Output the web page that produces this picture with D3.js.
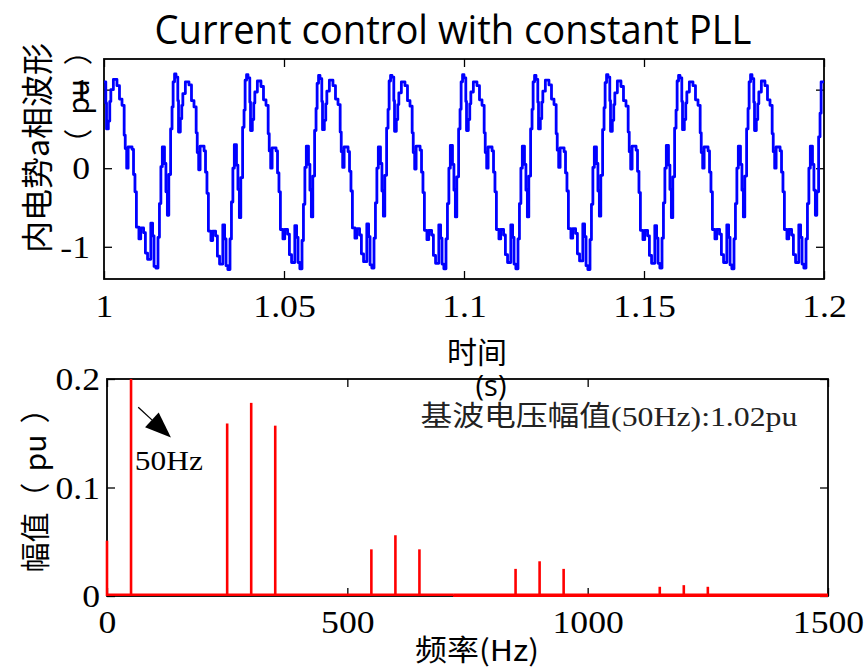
<!DOCTYPE html>
<html>
<head>
<meta charset="utf-8">
<script src="https://cdn.jsdelivr.net/npm/d3@7"></script>
<style>
  body { margin: 0; background: #fff; }
  svg { display: block; }
</style>
</head>
<body>
<div id="chart"></div>
<script>
// ---- top panel: internal EMF, phase a (pu) ----
// step points within one 20 ms period, one row of values per period
const PHASE_MS = [0.0, 0.5, 0.7, 1.2, 1.6, 1.9, 2.6, 3.6, 4.3, 5.0,
  5.6, 5.9, 6.3, 6.7, 7.8, 8.2, 8.6, 9.0, 9.7, 10.2,
  11.0, 11.5, 12.1, 13.0, 13.5, 13.9, 14.4, 15.0, 15.4, 15.8,
  16.2, 16.8, 17.2, 17.6, 18.0, 18.5, 18.9, 19.2, 19.6]
const WAVE_ROWS = [
  [1.10, 0.83, 0.50, 0.60, 0.85, 1.00, 1.13, 1.05, 0.88, 0.80, 0.42, 0.25, 0.00, 0.27, 0.24, -0.08, -0.30, -0.75, -0.90, -0.76, -0.82, -1.08, -1.16, -0.70, -0.86, -1.25, -1.27, -0.88, -0.45, 0.02, 0.27, 0.06, -0.30, -0.60, -0.08, 0.50, 0.78, 1.10, 1.20],
  [1.16, 0.86, 0.46, 0.63, 0.80, 0.95, 1.10, 1.06, 0.86, 0.78, 0.45, 0.20, -0.02, 0.28, 0.22, -0.05, -0.32, -0.80, -0.92, -0.80, -0.86, -1.12, -1.22, -0.72, -0.90, -1.24, -1.29, -0.90, -0.43, 0.00, 0.30, 0.04, -0.27, -0.63, -0.12, 0.52, 0.74, 1.12, 1.19],
  [1.15, 0.84, 0.48, 0.62, 0.83, 0.97, 1.11, 1.04, 0.87, 0.80, 0.44, 0.22, 0.00, 0.26, 0.22, -0.06, -0.30, -0.78, -0.90, -0.78, -0.84, -1.10, -1.20, -0.73, -0.88, -1.20, -1.28, -0.92, -0.46, 0.01, 0.28, 0.05, -0.28, -0.62, -0.10, 0.48, 0.76, 1.08, 1.18],
  [1.14, 0.85, 0.49, 0.61, 0.82, 0.98, 1.12, 1.05, 0.88, 0.81, 0.46, 0.21, 0.01, 0.27, 0.21, -0.04, -0.29, -0.76, -0.89, -0.77, -0.85, -1.09, -1.19, -0.71, -0.87, -1.23, -1.27, -0.89, -0.44, 0.00, 0.27, 0.06, -0.29, -0.61, -0.09, 0.51, 0.75, 1.11, 1.18],
  [1.16, 0.86, 0.47, 0.62, 0.81, 0.96, 1.10, 1.05, 0.86, 0.79, 0.45, 0.20, -0.01, 0.28, 0.23, -0.05, -0.31, -0.79, -0.91, -0.79, -0.85, -1.11, -1.21, -0.72, -0.89, -1.22, -1.28, -0.90, -0.45, 0.00, 0.29, 0.05, -0.28, -0.62, -0.11, 0.50, 0.75, 1.10, 1.19],
  [1.15, 0.85, 0.48, 0.62, 0.82, 0.97, 1.10, 1.05, 0.87, 0.80, 0.45, 0.20, 0.00, 0.27, 0.22, -0.05, -0.30, -0.78, -0.90, -0.78, -0.85, -1.10, -1.20, -0.72, -0.88, -1.22, -1.28, -0.90, -0.45, 0.00, 0.28, 0.05, -0.28, -0.62, -0.10, 0.50, 0.75, 1.10, 1.18],
  [1.13, 0.84, 0.50, 0.63, 0.84, 0.98, 1.12, 1.06, 0.88, 0.81, 0.44, 0.23, 0.01, 0.26, 0.21, -0.06, -0.29, -0.77, -0.89, -0.77, -0.83, -1.09, -1.18, -0.71, -0.87, -1.24, -1.29, -0.91, -0.46, 0.01, 0.27, 0.06, -0.29, -0.61, -0.09, 0.49, 0.77, 1.09, 1.19],
  [1.16, 0.86, 0.47, 0.61, 0.81, 0.96, 1.11, 1.04, 0.86, 0.79, 0.46, 0.21, -0.01, 0.28, 0.23, -0.04, -0.31, -0.79, -0.91, -0.79, -0.86, -1.11, -1.21, -0.73, -0.89, -1.21, -1.27, -0.89, -0.44, 0.00, 0.29, 0.04, -0.27, -0.63, -0.11, 0.51, 0.74, 1.11, 1.18],
  [1.15, 0.85, 0.49, 0.62, 0.83, 0.97, 1.10, 1.05, 0.87, 0.80, 0.45, 0.20, 0.00, 0.27, 0.22, -0.05, -0.30, -0.78, -0.90, -0.78, -0.84, -1.10, -1.20, -0.72, -0.88, -1.23, -1.28, -0.90, -0.45, 0.00, 0.28, 0.05, -0.28, -0.62, -0.10, 0.50, 0.76, 1.10, 1.19],
  [1.14, 0.84, 0.48, 0.62, 0.82, 0.97, 1.11, 1.05, 0.87, 0.80, 0.44, 0.21, 0.00, 0.27, 0.22, -0.05, -0.30, -0.78, -0.90, -0.78, -0.85, -1.10, -1.20, -0.72, -0.88, -1.22, -1.27, -0.90, -0.45, 0.00, 0.28, 0.05, -0.28, -0.60, -0.30, 0.40, 0.70, 1.10, 1.10]
]
const WAVE_PERIOD_MS = 20
const WAVE_END = [200, 1.1]
const TIME_TICKS = [1, 1.05, 1.1, 1.15, 1.2]
const TIME_LABELS = ['1', '1.05', '1.1', '1.15', '1.2']
const WAVE_TICKS = [-1, 0, 1]

// ---- bottom panel: FFT of the above ----
const FREQS = [0, 50, 250, 300, 350, 550, 600, 650, 850, 900, 950, 1150, 1200, 1250]
const AMPS = [0.051, 1.02, 0.159, 0.178, 0.157, 0.043, 0.056, 0.043, 0.025, 0.032, 0.025, 0.0085, 0.010, 0.0085]
const FREQ_TICKS = [0, 500, 1000, 1500]
const AMP_TICKS = [0, 0.1, 0.2]
const AMP_LABELS = ['0', '0.1', '0.2']
const FLOOR_BANDS = [[0, 720], [720, 1500]]
const ARROW_FROM = [65, 0.174]
const ARROW_TO = [133, 0.146]
const NOTE_50 = ['50Hz', 58, 0.116]
const NOTE_FUND = ['基波电压幅值(50Hz):1.02pu', 652, 0.157]

const W = 864, H = 669
const SERIF = '"Liberation Serif", "Times New Roman", "Noto Sans CJK SC", serif'
const SANS = '"Noto Sans CJK SC", "Open Sans", sans-serif'

const svg = d3.select('#chart').append('svg')
  .attr('width', W).attr('height', H)
  .style('background-color', '#fff')

// text in the original is a bit wider than the fonts we have
const stretch = (sel, k) => sel.each(function () {
  const w = this.getComputedTextLength()
  d3.select(this).attr('textLength', w * k).attr('lengthAdjust', 'spacingAndGlyphs')
})

const topbox = { x0: 104, x1: 824, y0: 59, y1: 279 }
const botbox = { x0: 107, x1: 828, y0: 379, y1: 596 }

const tx = d3.scaleLinear().domain([1, 1.2]).range([topbox.x0, topbox.x1])
const ty = d3.scaleLinear().domain([-1.41, 1.39]).range([topbox.y1, topbox.y0])
const fx = d3.scaleLinear().domain([0, 1500]).range([botbox.x0, botbox.x1])
const fy = d3.scaleLinear().domain([0, 0.2]).range([botbox.y1, botbox.y0])

const clip = (id, box) => {
  svg.append('clipPath').attr('id', id).append('rect')
    .attr('x', box.x0 - 2).attr('y', box.y0 - 1)
    .attr('width', box.x1 - box.x0 + 4).attr('height', box.y1 - box.y0 + 2)
  return `url(#${id})`
}

const drawaxes = (box, xs, ys, xticks, yticks, xfmt, yfmt, xlabely, ylabelx) => {
  /* frame with inward ticks on all four sides, labels bottom and left */
  const g = svg.append('g')
  const bottom = g.append('g').attr('transform', `translate(0,${box.y1})`)
    .call(d3.axisBottom(xs).tickValues(xticks).tickSizeInner(-8).tickSizeOuter(0).tickFormat(xfmt))
  g.append('g').attr('transform', `translate(0,${box.y0})`)
    .call(d3.axisTop(xs).tickValues(xticks).tickSizeInner(-8).tickSizeOuter(0).tickFormat(''))
  const left = g.append('g').attr('transform', `translate(${box.x0},0)`)
    .call(d3.axisLeft(ys).tickValues(yticks).tickSizeInner(-8).tickSizeOuter(0).tickFormat(yfmt))
  g.append('g').attr('transform', `translate(${box.x1},0)`)
    .call(d3.axisRight(ys).tickValues(yticks).tickSizeInner(-8).tickSizeOuter(0).tickFormat(''))
  g.selectAll('.domain').remove()
  g.selectAll('.tick line').attr('stroke', '#000').attr('stroke-width', 1.3)
  g.selectAll('text').attr('fill', '#000')
    .style('font-family', SERIF).style('font-size', '31px')
  bottom.selectAll('text').attr('y', xlabely).attr('dy', null)
  left.selectAll('text').attr('x', ylabelx).attr('dy', '0.34em')
  stretch(g.selectAll('text'), 1.15)
  g.append('rect')
    .attr('x', box.x0).attr('y', box.y0)
    .attr('width', box.x1 - box.x0).attr('height', box.y1 - box.y0)
    .attr('fill', 'none').attr('stroke', '#000').attr('stroke-width', 1.8)
}

// rotated y label; the full-width brackets get some air like in the original
const ylabel = (x, y, size, head, gap) => {
  const t = svg.append('text')
    .attr('transform', `translate(${x},${y}) rotate(-90)`)
    .attr('text-anchor', 'middle').attr('dominant-baseline', 'central')
    .style('font-family', SANS).style('font-size', `${size}px`)
  t.append('tspan').text(head + '（')
  t.append('tspan').attr('dx', gap).text('pu')
  t.append('tspan').attr('dx', gap).text('）')
  return t
}

// ---------- top panel ----------
drawaxes(topbox, tx, ty, TIME_TICKS, WAVE_TICKS,
  (d, i) => TIME_LABELS[i], d => d, 38, -14)

const wavepoints = []
WAVE_ROWS.forEach((row, c) => {
  row.forEach((v, i) => wavepoints.push([c * WAVE_PERIOD_MS + PHASE_MS[i], v]))
})
wavepoints.push(WAVE_END)

const waveline = d3.line()
  .x(d => tx(1 + d[0] / 1000))
  .y(d => ty(d[1]))
  .curve(d3.curveStepAfter)

svg.append('path')
  .datum(wavepoints)
  .attr('clip-path', clip('clip-top', topbox))
  .attr('d', waveline)
  .attr('fill', 'none')
  .attr('stroke', '#0000ff')
  .attr('stroke-width', 2.8)
  .attr('stroke-linejoin', 'round')

svg.append('text')
  .attr('x', 453).attr('y', 44)
  .attr('text-anchor', 'middle')
  .attr('textLength', 597).attr('lengthAdjust', 'spacingAndGlyphs')
  .style('font-family', '"Open Sans", "Noto Sans", sans-serif')
  .style('font-size', '40px')
  .text('Current control with constant PLL')

svg.append('text')
  .attr('x', 477).attr('y', 363)
  .attr('text-anchor', 'middle')
  .style('font-family', SANS).style('font-size', '30px')
  .text('时间')
svg.append('text')
  .attr('x', 491).attr('y', 396)
  .attr('text-anchor', 'middle')
  .style('font-family', '"Open Sans", sans-serif').style('font-size', '29px')
  .text('(s)')

svg.append('text')
  .attr('transform', 'translate(35,148) rotate(-90)')
  .attr('text-anchor', 'middle').attr('dominant-baseline', 'central')
  .style('font-family', SANS).style('font-size', '32px')
  .text('内电势a相波形')
ylabel(76, 97, 29, '', 14)

// ---------- bottom panel ----------
drawaxes(botbox, fx, fy, FREQ_TICKS, AMP_TICKS,
  d => d, (d, i) => AMP_LABELS[i], 37, -7)

const botclip = clip('clip-bot', botbox)
const floor = svg.append('g').attr('clip-path', botclip)
floor.selectAll('line')
  .data(FLOOR_BANDS)
  .enter()
  .append('line')
  .attr('x1', d => fx(d[0]))
  .attr('x2', d => fx(d[1]))
  .attr('y1', (d, i) => fy(0) - (i === 0 ? 1.2 : 0))
  .attr('y2', (d, i) => fy(0) - (i === 0 ? 1.2 : 0))
  .attr('stroke', '#ff0000')
  .attr('stroke-width', (d, i) => i === 0 ? 2.4 : 5)

svg.append('g').attr('clip-path', botclip)
  .selectAll('line')
  .data(FREQS)
  .enter()
  .append('line')
  .attr('x1', d => fx(d)).attr('x2', d => fx(d))
  .attr('y1', fy(0))
  .attr('y2', (d, i) => Math.max(fy(AMPS[i]), botbox.y0))
  .attr('stroke', '#ff0000')
  .attr('stroke-width', 2.6)

// arrow pointing at the 50 Hz line
const [ax0, ay0] = [fx(ARROW_FROM[0]), fy(ARROW_FROM[1])]
const [ax1, ay1] = [fx(ARROW_TO[0]), fy(ARROW_TO[1])]
const len = Math.hypot(ax1 - ax0, ay1 - ay0)
const ux = (ax1 - ax0) / len, uy = (ay1 - ay0) / len
const headlen = 26, headhalf = 10
const bx = ax1 - ux * headlen, by = ay1 - uy * headlen
svg.append('line')
  .attr('x1', ax0).attr('y1', ay0).attr('x2', bx).attr('y2', by)
  .attr('stroke', '#000').attr('stroke-width', 1.3)
svg.append('polygon')
  .attr('points', [[ax1, ay1], [bx - uy * headhalf, by + ux * headhalf], [bx + uy * headhalf, by - ux * headhalf]]
    .map(p => p.join(',')).join(' '))
  .attr('fill', '#000')

const n50 = svg.append('text')
  .attr('x', fx(NOTE_50[1])).attr('y', fy(NOTE_50[2]))
  .style('font-family', SERIF).style('font-size', '28px')
  .text(NOTE_50[0])
stretch(n50, 1.12)

const nf = svg.append('text')
  .attr('x', fx(NOTE_FUND[1])).attr('y', fy(NOTE_FUND[2]))
  .style('font-family', SERIF).style('font-size', '28px')
  .attr('fill', '#222')
  .text(NOTE_FUND[0])
nf.attr('textLength', 377).attr('lengthAdjust', 'spacingAndGlyphs')

svg.append('text')
  .attr('x', 477).attr('y', 661)
  .attr('text-anchor', 'middle')
  .attr('textLength', 124).attr('lengthAdjust', 'spacingAndGlyphs')
  .style('font-family', SANS).style('font-size', '29px')
  .text('频率(Hz)')
ylabel(33, 483, 30, '幅值', 11)
</script>
</body>
</html>
